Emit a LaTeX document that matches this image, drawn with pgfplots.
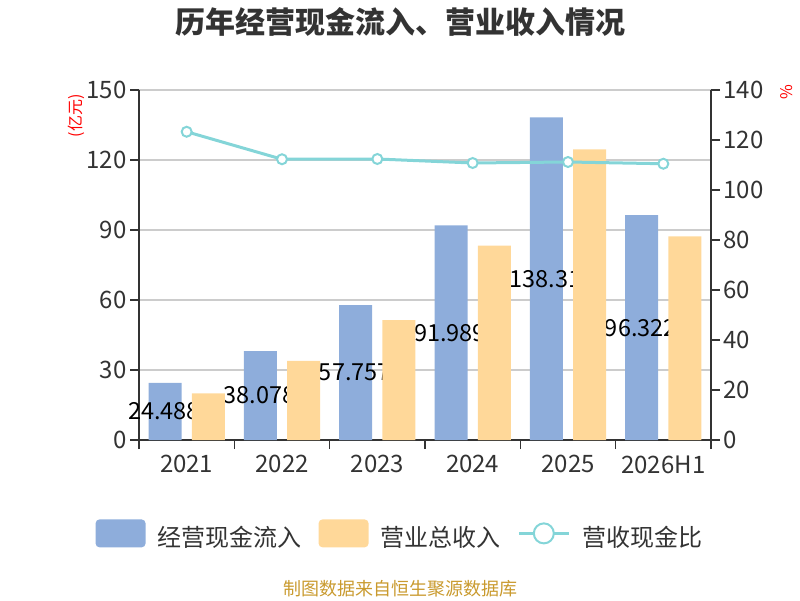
\documentclass[border=0pt]{standalone}
\usepackage{fontspec}
\setmainfont{Noto Sans CJK SC}
\usepackage{pgfplots}
\pgfplotsset{compat=1.18}
\definecolor{cBlue}{HTML}{8EADDB}
\definecolor{cOrange}{HTML}{FFD899}
\definecolor{cLine}{HTML}{84D5D8}
\definecolor{cAxis}{HTML}{333333}
\definecolor{cGrid}{HTML}{CCCCCC}
\definecolor{cFoot}{HTML}{C99A2E}
\newcommand{\fs}[1]{\fontsize{#1}{#1}\selectfont}
\begin{document}
\begin{tikzpicture}
\useasboundingbox (0,0) rectangle (800pt,600pt);
\pgfplotsset{
  base/.style={
    at={(139pt,160pt)}, anchor=south west,
    width=572pt, height=350pt, scale only axis,
    xmin=-0.5, xmax=5.5, ymin=0,
    /pgf/number format/assume math mode=true,
    tick label style={font=\fs{24pt}, text=cAxis},
    axis line style={cAxis, line width=1.5pt},
    tick style={cAxis, line width=1.5pt},
    tick align=outside,
    major tick length=9pt, minor tick length=9pt,
    clip=false,
  }
}
% axis 1: grid, left axis, blue bars, value labels, legend
\begin{axis}[base,
  ymax=150, ytick={0,30,...,150},
  axis y line*=left, axis x line*=bottom,
  ymajorgrids, grid style={cGrid, line width=1.2pt},
  xtick={0,...,5}, xticklabels={2021,2022,2023,2024,2025,2026H1},
  major x tick style={draw=none},
  minor xtick={-0.5,0.5,...,5.5},
  xticklabel style={yshift=-3pt},
  ylabel={(亿元)},
  every axis y label/.style={at={(axis description cs:-0.110,0.926)}, rotate=90, anchor=center, font=\fs{16pt}, text=red},
  legend style={at={(axis description cs:0.456,-0.271)}, anchor=center, draw=none, fill=none,
    font=\fs{24pt}, text=cAxis,
    /tikz/every odd column/.append style={column sep=10pt},
    /tikz/every even column/.append style={column sep=15pt}},
  legend columns=3,
]
\addplot[ybar, bar width=33pt, bar shift=-21.6pt, fill=cBlue, draw=none,
  legend image code/.code={\fill[rounded corners=4pt] (0pt,-10pt) rectangle (50pt,18pt);}]
  coordinates {(0,24.488) (1,38.078) (2,57.757) (3,91.989) (4,138.31) (5,96.322)};
\addlegendentry{经营现金流入}
\addplot[draw=none, mark=none, forget plot,
  point meta=explicit symbolic,
  nodes near coords, nodes near coords align=center,
  every node near coord/.append style={anchor=center, xshift=-22.5pt, font=\fs{23.5pt}, text=black}]
  coordinates {(0,12.244)[24.488] (1,19.039)[38.078] (2,28.879)[57.757] (3,45.995)[91.989] (4,69.155)[138.31] (5,48.161)[96.322]};
\addlegendimage{area legend, fill=cOrange, draw=none,
  legend image code/.code={\fill[cOrange, rounded corners=4pt] (0pt,-10pt) rectangle (50pt,18pt);}}
\addlegendentry{营业总收入}
\addlegendimage{legend image code/.code={
  \draw[cLine, line width=2.5pt] (0pt,4pt) -- (50pt,4pt);
  \draw[cLine, line width=2pt, fill=white] (25pt,4pt) circle (10pt);}}
\addlegendentry{营收现金比}
\end{axis}
% axis 2: orange bars drawn over the labels
\begin{axis}[base, ymax=150, hide axis]
\addplot[ybar, bar width=33pt, bar shift=21.6pt, fill=cOrange, draw=none]
  coordinates {(0,20.0) (1,33.9) (2,51.4) (3,83.3) (4,124.6) (5,87.3)};
\end{axis}
% axis 3: right axis and ratio line
\begin{axis}[base,
  ymax=140, ytick={0,20,...,140},
  axis y line*=right, axis x line=none,
  ylabel={\%},
  every axis y label/.style={at={(axis description cs:1.132,0.993)}, rotate=90, anchor=center, font=\fs{16pt}, text=red},
]
\addplot[cLine, line width=3pt, mark=*, mark size=5pt,
  mark options={fill=white, draw=cLine, line width=2pt}]
  coordinates {(0,123.3) (1,112.3) (2,112.4) (3,110.8) (4,111.2) (5,110.5)};
\end{axis}
\node[font=\fs{30pt}\bfseries, text=cAxis] at (400pt,578pt) {历年经营现金流入、营业收入情况};
\node[font=\fs{18pt}, text=cFoot] at (400pt,11pt) {制图数据来自恒生聚源数据库};
\end{tikzpicture}
\end{document}
